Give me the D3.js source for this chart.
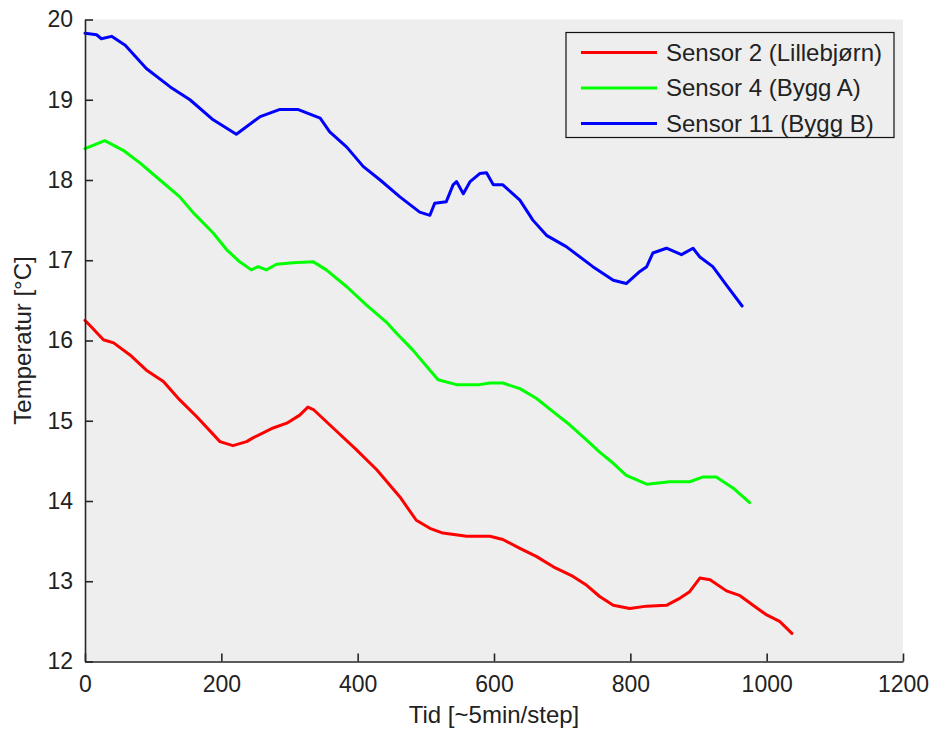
<!DOCTYPE html>
<html>
<head>
<meta charset="utf-8">
<script src="https://cdn.jsdelivr.net/npm/d3@7"></script>
<style>
  html, body { margin: 0; padding: 0; background: #ffffff; }
  svg { display: block; }
  text { font-family: "Liberation Sans", Arial, sans-serif; fill: #222; }
</style>
</head>
<body>
<svg id="chart" width="929" height="731"></svg>
<script>
// ---- data ----
const seriesNames = ["Sensor 2 (Lillebjørn)", "Sensor 4 (Bygg A)", "Sensor 11 (Bygg B)"];
const seriesColors = ["#ff0000", "#00ff00", "#0000ff"];

const sensor2 = [
  [0,16.25],[7,16.19],[27,16.01],[42,15.97],[66,15.82],[90,15.63],[115,15.49],[139,15.26],
  [164,15.05],[198,14.74],[217,14.69],[237,14.74],[247,14.79],[276,14.91],[296,14.97],
  [315,15.07],[327,15.17],[335,15.14],[364,14.91],[398,14.64],[428,14.39],[457,14.10],
  [462,14.05],[486,13.76],[506,13.66],[525,13.60],[560,13.56],[594,13.56],[613,13.52],
  [638,13.41],[662,13.31],[687,13.18],[716,13.06],[736,12.95],[755,12.81],[775,12.70],
  [799,12.66],[824,12.69],[853,12.70],[873,12.79],[887,12.87],[902,13.04],[917,13.02],
  [941,12.88],[961,12.82],[980,12.70],[1000,12.58],[1019,12.50],[1037,12.35]
];
const sensor4 = [
  [0,18.39],[29,18.49],[56,18.37],[81,18.21],[110,18.00],[139,17.79],[159,17.59],[188,17.34],
  [208,17.13],[227,16.98],[244,16.88],[254,16.92],[266,16.88],[281,16.95],[305,16.97],
  [335,16.98],[354,16.88],[384,16.67],[413,16.44],[442,16.23],[457,16.09],[481,15.88],
  [506,15.63],[518,15.51],[545,15.45],[579,15.45],[594,15.47],[613,15.47],[638,15.40],
  [662,15.28],[687,15.11],[711,14.95],[736,14.76],[755,14.61],[775,14.47],[794,14.32],
  [824,14.21],[858,14.24],[887,14.24],[907,14.30],[926,14.30],[951,14.16],[975,13.98]
];
const sensor11 = [
  [0,19.83],[17,19.81],[24,19.76],[39,19.79],[59,19.68],[90,19.39],[125,19.16],[154,19.00],
  [188,18.75],[222,18.57],[257,18.79],[286,18.88],[312,18.88],[345,18.77],[359,18.60],
  [384,18.41],[408,18.17],[433,18.00],[462,17.79],[491,17.60],[506,17.56],[513,17.71],
  [530,17.73],[540,17.94],[545,17.98],[555,17.83],[565,17.98],[579,18.08],[589,18.09],
  [599,17.94],[613,17.94],[638,17.75],[657,17.50],[677,17.31],[706,17.17],[745,16.92],
  [775,16.75],[794,16.71],[814,16.86],[824,16.92],[833,17.09],[853,17.15],[875,17.07],
  [892,17.15],[902,17.04],[921,16.92],[941,16.69],[964,16.43]
];
const series = [sensor2, sensor4, sensor11];

const xTicks = [0, 200, 400, 600, 800, 1000, 1200];
const yTicks = [12, 13, 14, 15, 16, 17, 18, 19, 20];
const xLabel = "Tid [~5min/step]";
const yLabel = "Temperatur [°C]";

// ---- layout ----
const svg = d3.select("#chart");
const pLeft = 85, pRight = 903, pTop = 19.5, pBottom = 661.5;
const x = d3.scaleLinear().domain([0, 1200]).range([pLeft, pRight]);
const y = d3.scaleLinear().domain([12, 20]).range([pBottom, pTop]);

// plot background
svg.append("rect")
  .attr("x", pLeft).attr("y", pTop)
  .attr("width", pRight - pLeft).attr("height", pBottom - pTop)
  .attr("fill", "#eeeeee");

// lines
const line = d3.line().x(d => x(d[0])).y(d => y(d[1]));
svg.append("g").selectAll("path").data(series).join("path")
  .attr("d", line)
  .attr("fill", "none")
  .attr("stroke", (d, i) => seriesColors[i])
  .attr("stroke-width", 3)
  .attr("stroke-linejoin", "round")
  .attr("stroke-linecap", "round");

// axes
const tfs = 23, lfs = 24;
const fmt = d3.format("d");
const xAxis = d3.axisBottom(x).tickValues(xTicks).tickFormat(fmt).tickSizeInner(-8).tickSizeOuter(0);
const gx = svg.append("g").attr("transform", `translate(0,${pBottom})`).call(xAxis);
const yAxis = d3.axisLeft(y).tickValues(yTicks).tickFormat(fmt).tickSizeInner(-8).tickSizeOuter(0).tickPadding(12);
const gy = svg.append("g").attr("transform", `translate(${pLeft},0)`).call(yAxis);
[gx, gy].forEach(g => {
  g.selectAll(".domain").attr("stroke", "#262626").attr("stroke-width", 1.6);
  g.selectAll(".tick line").attr("stroke", "#262626").attr("stroke-width", 1.6);
  g.selectAll(".tick text")
    .attr("font-family", "'Liberation Sans', Arial, sans-serif")
    .attr("font-size", tfs).attr("fill", "#222");
});
gx.selectAll(".tick text").attr("y", 30).attr("dy", 0);

// axis labels
svg.append("text")
  .attr("x", (pLeft + pRight) / 2).attr("y", 723)
  .attr("text-anchor", "middle")
  .attr("font-size", lfs)
  .text(xLabel);
svg.append("text")
  .attr("transform", `translate(31,${(pTop + pBottom) / 2}) rotate(-90)`)
  .attr("text-anchor", "middle")
  .attr("font-size", lfs)
  .text(yLabel);

// legend
const lg = svg.append("g");
lg.append("rect")
  .attr("x", 566).attr("y", 32.5)
  .attr("width", 328).attr("height", 105)
  .attr("fill", "#eeeeee").attr("stroke", "#111").attr("stroke-width", 1.2);
const rowY = [52.5, 88, 123.5];
const items = lg.selectAll("g.item").data(seriesNames).join("g").attr("class", "item")
  .attr("transform", (d, i) => `translate(0,${rowY[i]})`);
items.append("line")
  .attr("x1", 581).attr("x2", 657).attr("y1", 0).attr("y2", 0)
  .attr("stroke", (d, i) => seriesColors[i]).attr("stroke-width", 3);
items.append("text")
  .attr("x", 666).attr("y", 0).attr("dy", "0.35em")
  .attr("font-size", lfs)
  .text(d => d);
</script>
</body>
</html>
